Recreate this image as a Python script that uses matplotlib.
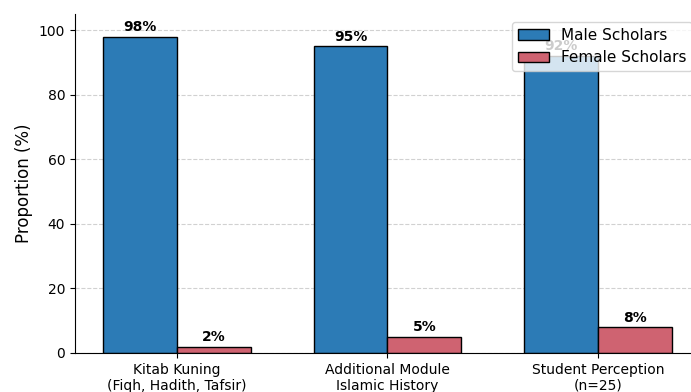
import numpy as np
import matplotlib.pyplot as plt

categories = ['Kitab Kuning\n(Fiqh, Hadith, Tafsir)',
              'Additional Module\nIslamic History',
              'Student Perception\n(n=25)']
male = [98, 95, 92]
female = [2, 5, 8]

x = np.arange(len(categories))
w = 0.35

fig = plt.figure(figsize=(6.91, 3.92), dpi=100)
ax = fig.add_axes([0.1085, 0.0995, 0.9045, 0.865])

b1 = ax.bar(x - w/2, male, w, color='#2c7bb6', edgecolor='black', linewidth=1, label='Male Scholars')
b2 = ax.bar(x + w/2, female, w, color='#cf6371', edgecolor='black', linewidth=1, label='Female Scholars')

for bars in (b1, b2):
    for b in bars:
        ax.text(b.get_x() + b.get_width()/2, b.get_height() + 0.8, f'{b.get_height():.0f}%',
                ha='center', va='bottom', fontsize=10, fontweight='bold')

ax.set_ylim(0, 105)
ax.set_xticks(x)
ax.set_xticklabels(categories, fontsize=10)
ax.set_ylabel('Proportion (%)', fontsize=12)
ax.yaxis.grid(True, linestyle='--', color='#cccccc', alpha=0.9)
ax.set_axisbelow(True)
ax.spines['top'].set_visible(False)
ax.spines['right'].set_visible(False)
ax.legend(loc='upper right', fontsize=11)

fig.savefig('out.png', dpi=100)
